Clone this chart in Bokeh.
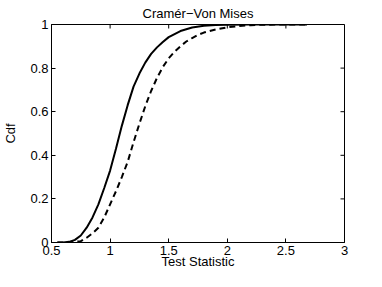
import math
from bokeh.plotting import figure
from bokeh.models import FixedTicker, Range1d
from bokeh.embed import file_html
from bokeh.resources import INLINE

# Data
x_solid = [0.55, 0.60, 0.65, 0.70, 0.75, 0.80, 0.85, 0.90, 0.95, 1.00, 1.05, 1.10,
           1.15, 1.20, 1.25, 1.30, 1.35, 1.40, 1.45, 1.50, 1.60, 1.70, 1.80, 1.90,
           2.00, 2.20, 2.50, 2.68]
y_solid = [0.0, 0.0, 0.003, 0.012, 0.032, 0.068, 0.115, 0.175, 0.25, 0.33, 0.43, 0.535,
           0.63, 0.715, 0.775, 0.825, 0.865, 0.895, 0.92, 0.942, 0.97, 0.986, 0.994, 0.998,
           0.999, 1.0, 1.0, 1.0]

x_dashed = [0.55, 0.60, 0.65, 0.70, 0.75, 0.80, 0.85, 0.90, 0.95, 1.00, 1.05, 1.10,
            1.15, 1.20, 1.25, 1.30, 1.35, 1.40, 1.45, 1.50, 1.55, 1.60, 1.65, 1.70,
            1.75, 1.80, 1.90, 2.00, 2.10, 2.20, 2.30, 2.50, 2.68]
y_dashed = [0.0, 0.0, 0.001, 0.003, 0.006, 0.022, 0.042, 0.068, 0.115, 0.175, 0.235, 0.30,
            0.37, 0.46, 0.545, 0.625, 0.695, 0.755, 0.805, 0.845, 0.875, 0.90, 0.922, 0.938,
            0.952, 0.963, 0.977, 0.987, 0.993, 0.997, 0.999, 1.0, 1.0]

x_ticks = [0.5, 1, 1.5, 2, 2.5, 3]
x_tick_labels = ["0.5", "1", "1.5", "2", "2.5", "3"]
y_ticks = [0, 0.2, 0.4, 0.6, 0.8, 1]
y_tick_labels = ["0", "0.2", "0.4", "0.6", "0.8", "1"]

title_text = "Cramér\u2212Von Mises"
x_label = "Test Statistic"
y_label = "Cdf"

FONT = "Liberation Sans"
FS = "13px"
X0, X1 = 0.5, 3
Y0, Y1 = 0, 1

p = figure(width=366, height=271, output_backend="svg", toolbar_location=None,
           x_range=Range1d(X0, X1), y_range=Range1d(Y0, Y1),
           min_border_left=45, min_border_right=22, min_border_top=0, min_border_bottom=0)

p.title.text = title_text
p.title.align = "center"
p.title.text_font = FONT
p.title.text_font_size = FS
p.title.text_font_style = "normal"
p.title.text_color = "black"
p.title.standoff = 7

p.grid.visible = False
p.outline_line_color = "black"
p.outline_line_width = 1
p.background_fill_color = "white"
p.border_fill_color = "white"

p.line(x_solid, y_solid, line_color="black", line_width=2)
p.line(x_dashed, y_dashed, line_color="black", line_width=2, line_dash="6 4")

def style_axis(ax, ticks, labels):
    ax.ticker = FixedTicker(ticks=ticks)
    ax.major_label_overrides = {t: l for t, l in zip(ticks, labels)}
    ax.minor_tick_line_color = None
    ax.major_tick_in = 4
    ax.major_tick_out = 0
    ax.axis_line_color = "black"
    ax.major_tick_line_color = "black"
    ax.major_label_text_font = FONT
    ax.major_label_text_font_size = FS
    ax.major_label_text_color = "black"
    ax.major_label_standoff = 3
    ax.axis_label_text_font = FONT
    ax.axis_label_text_font_size = FS
    ax.axis_label_text_font_style = "normal"
    ax.axis_label_text_color = "black"
    ax.axis_label_standoff = 0

style_axis(p.xaxis[0], x_ticks, x_tick_labels)
p.xaxis[0].axis_label = x_label
p.xaxis[0].axis_label_standoff = -4
style_axis(p.yaxis[0], y_ticks, y_tick_labels)
p.yaxis[0].axis_label = y_label
p.yaxis[0].axis_label_standoff = 9

# inward tick marks on the top and right edges of the box
p.ray(x=x_ticks, y=[Y1] * len(x_ticks), length=4, length_units="screen",
      angle=-math.pi / 2, line_color="black", line_width=1)
p.ray(x=[X1] * len(y_ticks), y=y_ticks, length=4, length_units="screen",
      angle=math.pi, line_color="black", line_width=1)

open("out.html", "w").write(file_html(p, INLINE))
